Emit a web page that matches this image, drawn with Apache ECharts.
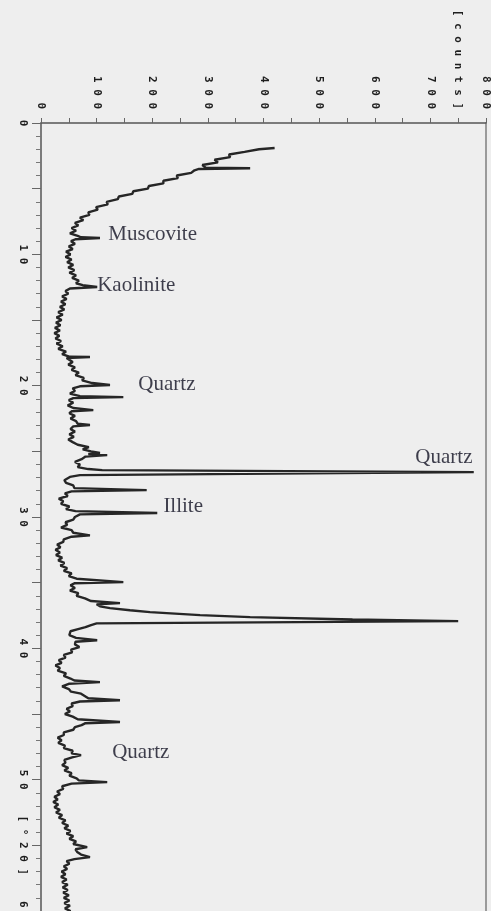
<!DOCTYPE html>
<html>
<head>
<meta charset="utf-8">
<script src="https://cdn.jsdelivr.net/npm/echarts@6/dist/echarts.min.js"></script>
<style>
  html, body { margin: 0; padding: 0; background: #eeeeee; }
  #chart { width: 491px; height: 911px; }
</style>
</head>
<body>
<div id="chart"></div>
<script>
// diffractogram, rotated: [2theta (deg), counts]
const scanLow = [
  [1.9, 420], [2.0, 392], [2.2, 366], [2.4, 338], [2.6, 340], [2.8, 312], [3.0, 318], [3.2, 290],
  [3.4, 296], [3.45, 376], [3.5, 284], [3.6, 276], [3.8, 270], [4.0, 244], [4.2, 246], [4.4, 220],
  [4.6, 220], [4.8, 194], [5.0, 192], [5.2, 166], [5.4, 164], [5.6, 140], [5.8, 138], [6.0, 118],
  [6.2, 120], [6.4, 99], [6.6, 102], [6.8, 85], [7.0, 87], [7.2, 70], [7.4, 76], [7.6, 61],
  [7.8, 67], [8.0, 55], [8.2, 63], [8.4, 52], [8.6, 66], [8.7, 72], [8.76, 106], [8.85, 62],
  [9.0, 54], [9.2, 61], [9.4, 50], [9.6, 57], [9.8, 45], [10.0, 53], [10.2, 44], [10.4, 55],
  [10.6, 47], [10.8, 58], [11.0, 49], [11.2, 60], [11.4, 51], [11.6, 63], [11.8, 56], [12.0, 68],
  [12.2, 63], [12.35, 75], [12.49, 101], [12.6, 52], [12.8, 44], [13.0, 49], [13.2, 38], [13.4, 46],
  [13.6, 36], [13.8, 44]
];
const scanMid = [
  [14.0, 34], [14.2, 42], [14.4, 31], [14.6, 39], [14.8, 28], [15.0, 37], [15.2, 27], [15.4, 35],
  [15.6, 25], [15.8, 34], [16.0, 24], [16.2, 33], [16.4, 26], [16.6, 36], [16.8, 28], [17.0, 39],
  [17.2, 31], [17.4, 45], [17.6, 38], [17.8, 52], [17.82, 88], [17.9, 46], [18.0, 45], [18.2, 57],
  [18.4, 49], [18.6, 61], [18.8, 55], [19.0, 68], [19.2, 62], [19.4, 77], [19.6, 74], [19.8, 92],
  [19.95, 124], [20.05, 70], [20.2, 57], [20.4, 61], [20.6, 52], [20.8, 70], [20.87, 148], [20.95, 58],
  [21.1, 50], [21.3, 58], [21.5, 48], [21.7, 58], [21.86, 94], [21.95, 55], [22.1, 51], [22.3, 61],
  [22.5, 53], [22.7, 63], [22.9, 66], [23.0, 88], [23.1, 58], [23.3, 53], [23.5, 61], [23.7, 51],
  [23.9, 59], [24.1, 49], [24.3, 57], [24.5, 66], [24.68, 86], [24.85, 75], [25.0, 90], [25.13, 106],
  [25.2, 85], [25.29, 119], [25.4, 80], [25.6, 73], [25.8, 61], [26.0, 70], [26.2, 66], [26.35, 85],
  [26.43, 110], [26.58, 778], [26.81, 70]
];
const scanHigh = [
  [26.95, 52], [27.1, 50], [27.2, 42], [27.4, 45], [27.6, 58], [27.8, 60], [27.95, 190], [28.05, 55],
  [28.2, 43], [28.4, 48], [28.6, 32], [28.8, 40], [29.0, 36], [29.2, 51], [29.4, 45], [29.55, 62],
  [29.7, 209], [29.8, 70], [30.0, 61], [30.2, 58], [30.4, 44], [30.6, 47], [30.8, 36], [31.0, 55],
  [31.2, 58], [31.4, 88], [31.5, 55], [31.7, 41], [31.9, 40], [32.1, 29], [32.3, 35], [32.5, 26],
  [32.7, 34], [32.9, 27], [33.1, 38], [33.3, 31], [33.5, 42], [33.7, 35], [33.9, 47], [34.1, 41],
  [34.3, 55], [34.5, 50], [34.7, 64], [34.96, 148], [35.05, 60], [35.2, 53], [35.4, 61], [35.6, 52],
  [35.8, 67], [36.0, 64], [36.2, 79], [36.4, 90], [36.56, 142], [36.65, 100], [36.8, 106], [36.94, 124],
  [37.1, 160], [37.24, 196], [37.47, 286], [37.62, 376], [37.8, 560], [37.93, 750], [38.1, 100], [38.23, 90],
  [38.39, 80], [38.55, 65], [38.7, 53], [38.85, 56], [39.0, 51], [39.2, 63], [39.38, 101], [39.5, 62],
  [39.7, 61], [39.9, 69]
];
const scanTail = [
  [40.1, 54], [40.3, 56], [40.5, 41], [40.7, 44], [40.9, 32], [41.1, 37], [41.3, 26], [41.5, 34],
  [41.7, 30], [41.9, 45], [42.1, 41], [42.3, 53], [42.45, 60], [42.57, 106], [42.7, 50], [42.9, 38],
  [43.1, 50], [43.3, 54], [43.45, 72], [43.6, 75], [43.8, 85], [43.95, 142], [44.05, 70], [44.2, 55],
  [44.4, 57], [44.6, 46], [44.8, 52], [45.0, 43], [45.2, 57], [45.4, 66], [45.61, 142], [45.7, 80],
  [45.85, 73], [46.0, 61], [46.2, 58], [46.4, 41], [46.6, 41], [46.8, 30], [47.0, 37], [47.2, 31],
  [47.4, 43], [47.6, 41], [47.8, 57], [48.0, 55], [48.13, 72], [48.3, 56], [48.5, 42], [48.7, 44],
  [48.9, 38], [49.1, 49], [49.3, 42], [49.5, 55], [49.7, 51], [49.9, 64], [50.05, 68], [50.19, 119],
  [50.3, 55], [50.5, 38], [50.7, 40], [50.9, 29], [51.1, 34], [51.3, 24], [51.5, 30], [51.7, 22],
  [51.9, 31], [52.1, 24], [52.3, 34], [52.5, 27], [52.7, 38], [52.9, 32], [53.1, 44], [53.3, 38],
  [53.5, 49], [53.7, 42], [53.9, 53], [54.1, 46], [54.3, 58], [54.5, 51], [54.7, 63], [54.9, 58],
  [55.14, 83], [55.3, 62], [55.5, 65], [55.7, 72], [55.9, 88], [56.05, 60], [56.2, 46], [56.4, 51],
  [56.6, 41], [56.8, 47], [57.0, 37], [57.2, 44], [57.4, 36], [57.6, 46], [57.8, 38], [58.0, 48],
  [58.2, 39], [58.4, 48], [58.6, 40], [58.8, 50], [59.0, 41], [59.2, 51], [59.4, 42], [59.6, 52],
  [59.8, 43], [60.0, 53], [60.2, 44]
];

// mineral annotations: name, counts, 2theta
const mineralNames = ['Muscovite', 'Kaolinite', 'Quartz', 'Quartz', 'Illite', 'Quartz'];
const mineralCounts = [121, 101, 175, 673, 220, 128];
const mineralAngles = [8.5, 12.4, 19.9, 25.5, 29.2, 47.9];

const spaced = (s) => String(s).split('').join(' ');

const chart = echarts.init(document.getElementById('chart'));

const scan = scanLow.concat(scanMid, scanHigh, scanTail).map((p) => [p[1], p[0]]);

const labelFont = {
  fontFamily: 'DejaVu Sans Mono',
  fontSize: 11,
  fontWeight: 'bold',
  color: '#1e1e1e'
};

chart.setOption({
  backgroundColor: '#eeeeee',
  animation: false,
  grid: { left: 41, right: 5, top: 123, bottom: 0, outerBoundsMode: 'none', containLabel: false },
  xAxis: {
    type: 'value',
    position: 'top',
    min: 0,
    max: 800,
    interval: 50,
    axisLine: { lineStyle: { color: '#555', width: 1.5 } },
    axisTick: { length: 5, lineStyle: { color: '#666' } },
    splitLine: { show: false },
    axisLabel: Object.assign({
      rotate: -90,
      margin: 14,
      formatter: (v) => (v % 100 === 0 ? spaced(v) : v === 750 ? spaced('[counts]') : '')
    }, labelFont)
  },
  yAxis: [
    {
      type: 'value',
      position: 'left',
      inverse: true,
      min: 0,
      max: 60,
      interval: 5,
      axisLine: { lineStyle: { color: '#555', width: 1.5 } },
      axisTick: { length: 9, lineStyle: { color: '#666' } },
      minorTick: { show: true, splitNumber: 5, length: 5, lineStyle: { color: '#777' } },
      splitLine: { show: false },
      axisLabel: Object.assign({
        rotate: -90,
        margin: 13,
        formatter: (v) => (v % 10 === 0 ? spaced(v) : v === 55 ? spaced('[°2θ]') : '')
      }, labelFont)
    },
    {
      type: 'value',
      position: 'right',
      inverse: true,
      min: 0,
      max: 60,
      axisLine: { show: true, lineStyle: { color: '#9a9a9a', width: 2 } },
      axisTick: { show: false },
      axisLabel: { show: false },
      splitLine: { show: false }
    }
  ],
  series: [
    {
      type: 'line',
      data: scan,
      showSymbol: false,
      lineStyle: { color: '#262626', width: 2.4 },
      z: 3
    },
    {
      type: 'scatter',
      symbolSize: 0,
      data: mineralNames.map((n, i) => ({ name: n, value: [mineralCounts[i], mineralAngles[i]] })),
      label: {
        show: true,
        position: 'right',
        distance: 0,
        formatter: (p) => p.name,
        fontFamily: 'Liberation Serif',
        fontSize: 21,
        color: '#101022'
      },
      z: 4
    }
  ]
});
</script>
</body>
</html>
